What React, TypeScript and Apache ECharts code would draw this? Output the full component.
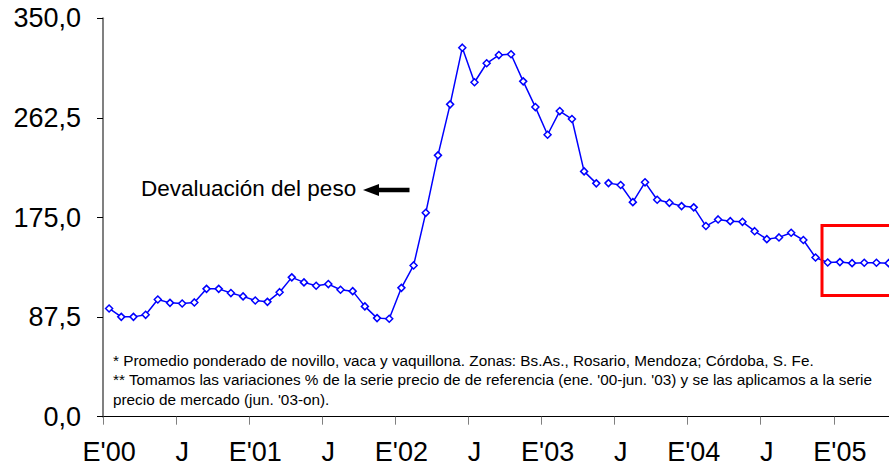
import React, { useEffect, useRef } from "react";
import * as echarts from "echarts";

// Monthly categories Jan 2000 – Jun 2005 (Spanish abbreviations)
const monthNames = ["Ene", "Feb", "Mar", "Abr", "May", "Jun", "Jul", "Ago", "Sep", "Oct", "Nov", "Dic"];
const yearSuffixes = ["00", "01", "02", "03", "04", "05"];
const months: string[] = [];
yearSuffixes.forEach((y) =>
  monthNames.forEach((m, i) => {
    if (y === "05" && i > 5) return;
    months.push(`${m}'${y}`);
  })
);

// Reference price series (Jan '00 – May '03)
const referenceSeries = [
  95.1, 87.7, 87.7, 89.5, 103.0, 100.0, 99.5, 100.4, 112.3, 112.3, 108.6, 105.7,
  102.1, 100.9, 109.4, 122.4, 118.0, 115.0, 116.5, 111.5, 110.3, 96.9, 86.6, 86.0,
  113.2, 132.9, 179.1, 229.6, 274.4, 324.2, 293.8, 310.5, 317.7, 318.4, 294.6, 272.0,
  247.7, 268.5, 261.5, 215.5, 205.0,
];

// Market price series (Jun '03 – May '05)
const marketStart = "Jun'03";
const marketSeries = [
  205.2, 203.5, 188.5, 205.9, 190.6, 187.9, 185.0,
  183.9, 167.5, 173.3, 171.8, 171.2, 163.0, 156.0, 157.5, 161.6, 155.2, 139.9, 135.5,
  135.8, 134.9, 135.2, 135.2, 134.9,
];

const yTicks = { min: 0, max: 350, interval: 87.5 };

const footnotes = [
  "* Promedio ponderado de novillo, vaca y vaquillona. Zonas: Bs.As., Rosario, Mendoza; Córdoba, S. Fe.",
  "** Tomamos las variaciones % de la serie precio de de referencia (ene. '00-jun. '03) y se las aplicamos a la serie",
  "precio de mercado (jun. '03-on).",
];
const annotationText = "Devaluación del peso";

const FONT = "Arial, 'Liberation Sans', Helvetica, sans-serif";
const BLUE = "#0000FF";
const CAT_W = 12.18;

export default function App() {
  const ref = useRef<HTMLDivElement>(null);

  useEffect(() => {
    if (!ref.current) return;
    const chart = echarts.init(ref.current, undefined, { renderer: "svg" });
    const startIdx = months.indexOf(marketStart);

    const seriesCommon = {
      type: "line" as const,
      symbol: "diamond",
      symbolSize: 7,
      showSymbol: true,
      lineStyle: { color: BLUE, width: 1.5 },
      itemStyle: { color: "#ffffff", borderColor: BLUE, borderWidth: 1.5 },
      emphasis: { disabled: true },
      z: 3,
    };

    chart.setOption({
      animation: false,
      backgroundColor: "#ffffff",
      grid: { left: 103, top: 18.3, width: months.length * CAT_W, height: 398.4, containLabel: false },
      xAxis: {
        type: "category",
        data: months,
        boundaryGap: true,
        axisLine: { lineStyle: { color: "#000000", width: 1 } },
        axisTick: { show: true, interval: 5, length: 8, lineStyle: { color: "#808080", width: 1 } },
        axisLabel: {
          interval: 5,
          margin: 22,
          fontSize: 27,
          fontFamily: FONT,
          color: "#000000",
          formatter: (v: string) => (v.startsWith("Ene") ? `E'${v.slice(4)}` : v.charAt(0)),
        },
        splitLine: { show: false },
      },
      yAxis: {
        type: "value",
        min: yTicks.min,
        max: yTicks.max,
        interval: yTicks.interval,
        axisLine: { show: true, lineStyle: { color: "#808080", width: 2 } },
        axisTick: { show: true, length: 6, lineStyle: { color: "#000000", width: 1 } },
        axisLabel: {
          margin: 22,
          fontSize: 27,
          fontFamily: FONT,
          color: "#000000",
          formatter: (v: number) => v.toFixed(1).replace(".", ","),
        },
        splitLine: { show: false },
      },
      series: [
        { ...seriesCommon, name: "referencia", data: referenceSeries },
        {
          ...seriesCommon,
          name: "mercado",
          data: marketSeries.map((v, i) => [months[startIdx + i], v]),
        },
      ],
      graphic: [
        {
          type: "text",
          x: 141,
          y: 188,
          style: { text: annotationText, fontSize: 22.5, fontFamily: FONT, fill: "#000", textVerticalAlign: "middle" },
        },
        {
          type: "rect",
          shape: { x: 376, y: 187.7, width: 33.5, height: 4.6 },
          style: { fill: "#000" },
        },
        {
          type: "polygon",
          shape: { points: [[363, 190], [379, 184], [379, 196]] },
          style: { fill: "#000" },
        },
        {
          type: "rect",
          shape: { x: 822, y: 225.5, width: 100, height: 70 },
          style: { fill: "none", stroke: "#FF0000", lineWidth: 3 },
          z: 10,
        },
        ...footnotes.map((t, i) => ({
          type: "text",
          x: 113,
          y: [360.7, 379.5, 399][i],
          style: { text: t, fontSize: 15.3, fontFamily: FONT, fill: "#000", textVerticalAlign: "middle" },
        })),
      ],
    });

    return () => chart.dispose();
  }, []);

  return (
    <div
      ref={ref}
      style={{ position: "fixed", left: 0, top: 0, width: 940, height: 474, background: "#fff" }}
    />
  );
}
